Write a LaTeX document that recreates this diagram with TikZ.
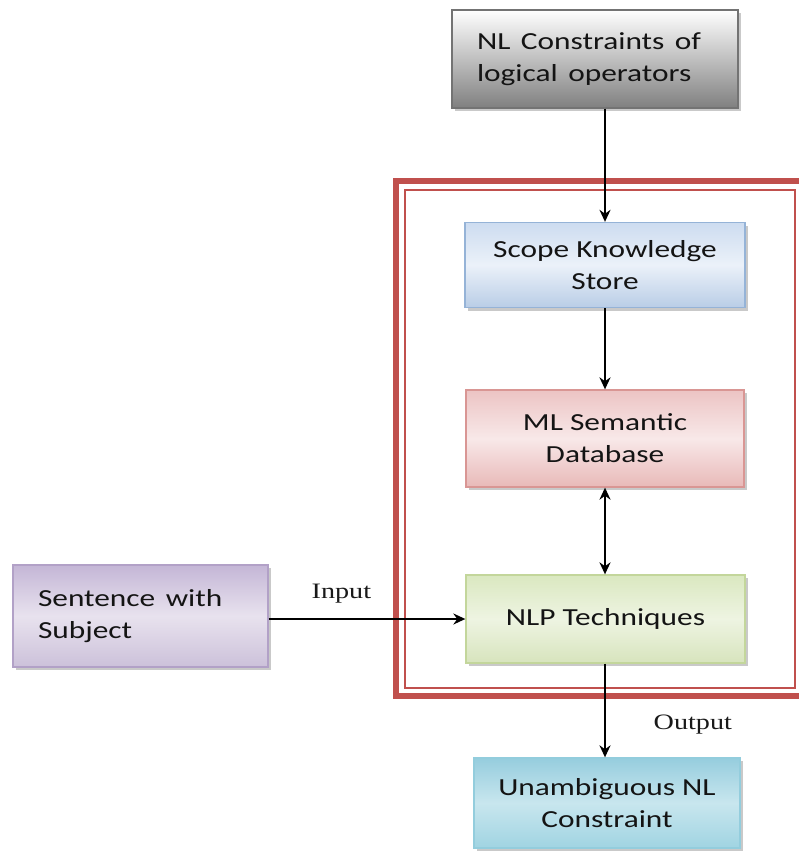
\documentclass[tikz,border=0pt]{standalone}
\usepackage{fontspec}
\usepackage{graphicx}
\setmainfont{Carlito}
\newfontfamily\lblfont{Liberation Serif}
\usetikzlibrary{arrows.meta,shadows}
\newcommand{\SB}[1]{\scalebox{1.28}[1]{#1}}
\definecolor{frame}{HTML}{C0504D}
\tikzset{
  box/.style={draw, line width=1.3pt, minimum width=#1, inner sep=0pt,
    font=\fontsize{24.5}{32}\selectfont, text=black!92,
    drop shadow={shadow xshift=3pt, shadow yshift=-3pt, opacity=0.35, fill=black!60}},
  arr/.style={line width=2.8pt, -{Stealth[length=12pt,width=11pt]}},
  lbl/.style={font=\lblfont\fontsize{22}{24}\selectfont, text=black!90},
}
\begin{document}
\begin{tikzpicture}[x=1pt,y=-1pt]
\useasboundingbox (0,0) rectangle (799,852);
\fill[white] (0,0) rectangle (799,852);
% red double frame
\draw[frame, line width=6pt] (805,181) -- (396,181) -- (396,696) -- (805,696);
\draw[frame, line width=1.5pt] (405,190) rectangle (795,688);
% nodes
\node[box=286pt, minimum height=98pt, draw=black!55, top color=white, bottom color=black!50, align=left, text width=236pt]
  (nl) at (595,59) {\SB{NL Constraints of}\\\SB{logical operators}};
\node[box=280pt, minimum height=85pt, draw={rgb,255:red,149;green,179;blue,215}, top color={rgb,255:red,205;green,220;blue,240}, bottom color={rgb,255:red,185;green,205;blue,230}, middle color={rgb,255:red,235;green,241;blue,249}, align=center]
  (scope) at (605,265) {\SB{Scope Knowledge}\\\SB{Store}};
\node[box=278pt, minimum height=97pt, draw={rgb,255:red,217;green,150;blue,148}, top color={rgb,255:red,236;green,196;blue,196}, bottom color={rgb,255:red,232;green,185;blue,184}, middle color={rgb,255:red,248;green,232;blue,232}, align=center]
  (ml) at (605,438.5) {\SB{ML Semantic}\\\SB{Database}};
\node[box=279pt, minimum height=88pt, draw={rgb,255:red,195;green,214;blue,155}, top color={rgb,255:red,218;green,232;blue,192}, bottom color={rgb,255:red,215;green,228;blue,189}, middle color={rgb,255:red,238;green,244;blue,226}, align=center]
  (nlp) at (605.5,619) {\SB{NLP Techniques}};
\node[box=255pt, minimum height=102pt, draw={rgb,255:red,178;green,161;blue,199}, top color={rgb,255:red,196;green,182;blue,214}, bottom color={rgb,255:red,204;green,193;blue,218}, middle color={rgb,255:red,232;green,226;blue,238}, align=left, text width=205pt]
  (sent) at (140.5,616) {\SB{Sentence with}\\\SB{Subject}};
\node[box=266pt, minimum height=90pt, draw={rgb,255:red,147;green,205;blue,221}, top color={rgb,255:red,150;green,205;blue,222}, bottom color={rgb,255:red,160;green,212;blue,226}, middle color={rgb,255:red,200;green,230;blue,238}, align=center]
  (un) at (607,803) {\SB{Unambiguous NL}\\\SB{Constraint}};
% connectors
\draw[arr] (scope.north |- nl.south) -- (scope.north);
\draw[arr] (scope.south) -- (ml.north);
\draw[line width=2.8pt, {Stealth[length=12pt,width=11pt]}-{Stealth[length=12pt,width=11pt]}] (ml.south) -- (ml.south |- nlp.north);
\draw[arr] (sent.east |- nlp.west) -- node[lbl, pos=0.37, above=11pt] (in) {\SB{Input}} (nlp.west);
\draw[arr] (ml.south |- nlp.south) -- node[lbl, pos=0.65, right=44pt] (out) {\SB{Output}} (ml.south |- un.north);
\end{tikzpicture}
\end{document}
